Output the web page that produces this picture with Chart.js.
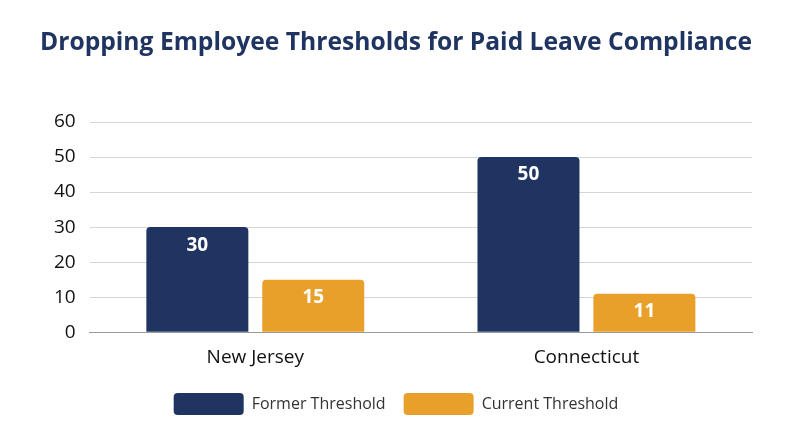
<!DOCTYPE html>
<html>
<head>
<meta charset="utf-8">
<script src="https://cdn.jsdelivr.net/npm/chart.js@4"></script>
<style>
  html, body { margin: 0; padding: 0; background: #fff; }
  #wrap { width: 800px; height: 447px; }
</style>
</head>
<body>
<div id="wrap"><canvas id="chart"></canvas></div>
<script>
const states = ['New Jersey', 'Connecticut']
const formerThreshold = [30, 50]
const currentThreshold = [15, 11]
const navy = '#1f3461'
const orange = '#e9a02a'

// white numbers just under the top of each bar
const barLabels = {
  id: 'barLabels',
  afterDatasetsDraw(chart) {
    const ctx = chart.ctx
    ctx.save()
    ctx.fillStyle = '#fff'
    ctx.font = 'bold 19px "Open Sans", sans-serif'
    ctx.textAlign = 'center'
    ctx.textBaseline = 'middle'
    chart.data.datasets.forEach((ds, i) => {
      chart.getDatasetMeta(i).data.forEach((bar, j) => {
        ctx.fillText(ds.data[j], bar.x, bar.y + 18)
      })
    })
    ctx.restore()
  }
}

new Chart(document.getElementById('chart'), {
  type: 'bar',
  data: {
    labels: states,
    datasets: [
      { label: 'Former Threshold', data: formerThreshold, backgroundColor: navy, borderRadius: 4, borderSkipped: 'bottom' },
      { label: 'Current Threshold', data: currentThreshold, backgroundColor: orange, borderRadius: 4, borderSkipped: 'bottom' }
    ]
  },
  options: {
    responsive: true,
    maintainAspectRatio: false,
    animation: false,
    layout: { padding: { left: 40, right: 48, top: 10, bottom: 22 } },
    datasets: { bar: { categoryPercentage: 0.7, barPercentage: 0.88 } },
    plugins: {
      title: {
        display: true,
        text: 'Dropping Employee Thresholds for Paid Leave Compliance',
        color: navy,
        font: { family: 'Open Sans', size: 25, weight: 'bold' },
        padding: { top: 18, bottom: 64 }
      },
      legend: {
        position: 'bottom',
        labels: {
          boxWidth: 70, boxHeight: 22, useBorderRadius: true, borderRadius: 4,
          padding: 18, color: '#333',
          font: { family: 'Open Sans', size: 16 }
        }
      },
      tooltip: { enabled: false }
    },
    scales: {
      x: {
        grid: { display: false },
        border: { color: '#999' },
        ticks: { color: '#111', font: { family: 'Open Sans', size: 19 }, padding: 6 }
      },
      y: {
        min: 0, max: 60,
        ticks: { stepSize: 10, color: '#111', font: { family: 'Open Sans', size: 19 }, padding: 14 },
        grid: { color: '#d6d6d6', drawTicks: false },
        border: { display: false }
      }
    }
  },
  plugins: [barLabels]
})
</script>
</body>
</html>
